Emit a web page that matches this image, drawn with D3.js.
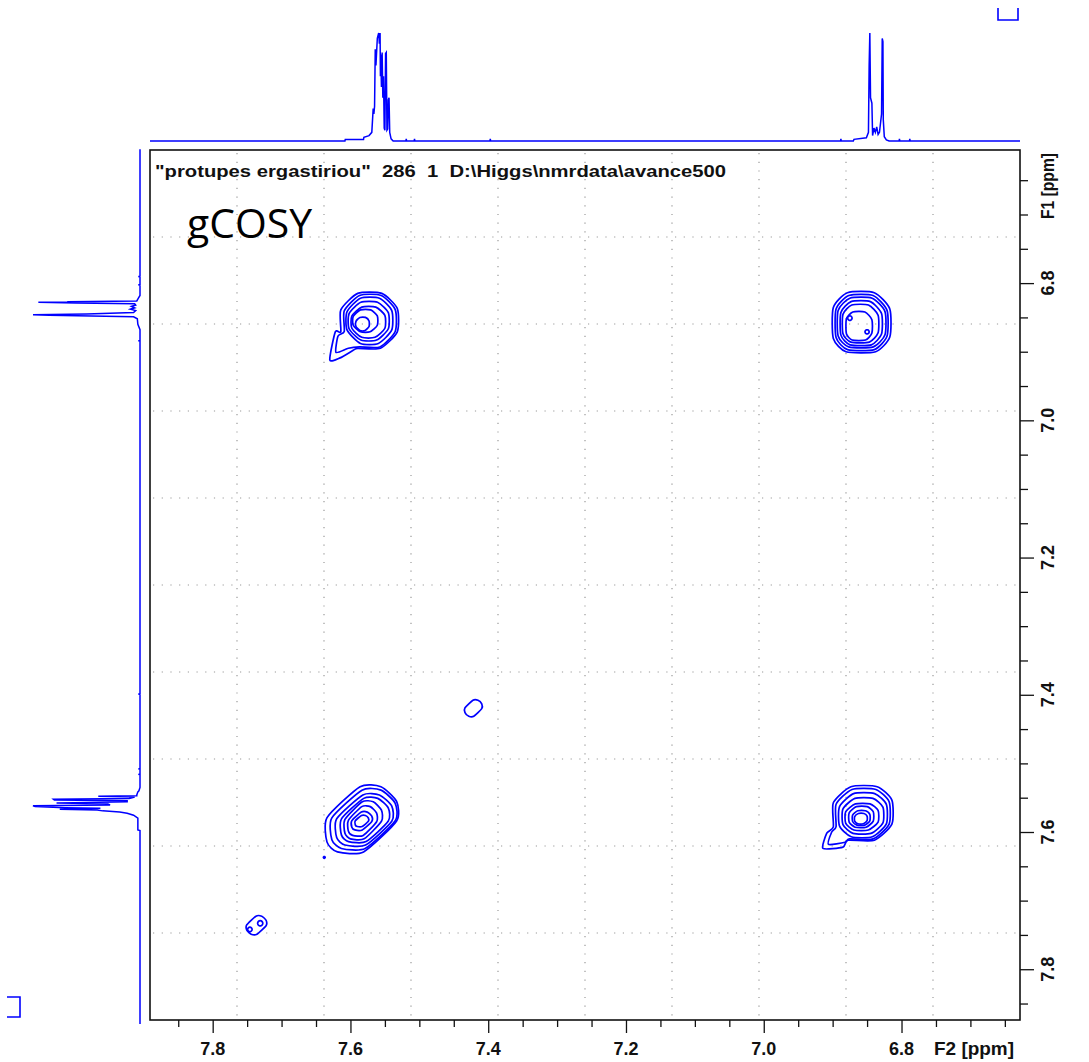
<!DOCTYPE html>
<html><head><meta charset="utf-8">
<script src="https://cdn.jsdelivr.net/npm/d3@7"></script>
<style>
html,body{margin:0;padding:0;background:#fff;}
svg{display:block;}
</style></head><body>
<svg id="c" width="1089" height="1062"></svg>
<script>
// ---------- data ----------
const f2Domain = [7.891, 6.628];          // F2 ppm at left / right frame edges
const f1Domain = [6.606, 7.874];          // F1 ppm at top / bottom frame edges
const majorTicks = [6.8, 7.0, 7.2, 7.4, 7.6, 7.8];
const tickLabels = ["6.8", "7.0", "7.2", "7.4", "7.6", "7.8"];
const minorTicks = [6.65, 6.70, 6.75, 6.85, 6.90, 6.95, 7.05, 7.10, 7.15, 7.25, 7.30, 7.35, 7.45, 7.50, 7.55, 7.65, 7.70, 7.75, 7.85];
const titleText = '"protupes ergastiriou"  286  1  D:\\Higgs\\nmrdata\\avance500';
const expLabel = "gCOSY";
const f2Label = "F2 [ppm]";
const f1Label = "F1 [ppm]";

// top 1D projection (F2): ppm, relative intensity
const topPpm = [7.891, 7.608, 7.6075, 7.581, 7.5805, 7.573, 7.569, 7.567, 7.566, 7.565, 7.564, 7.563, 7.561, 7.559, 7.558, 7.557, 7.5565, 7.556, 7.555, 7.554, 7.553, 7.552, 7.551, 7.550, 7.549, 7.548, 7.547, 7.546, 7.545, 7.544, 7.543, 7.541, 7.538, 7.5195, 7.519, 7.5185, 7.5075, 7.507, 7.5065, 7.3975, 7.397, 7.3965, 6.8885, 6.888, 6.8875, 6.870, 6.869, 6.851, 6.848, 6.847, 6.846, 6.845, 6.843, 6.842, 6.840, 6.838, 6.836, 6.834, 6.832, 6.829, 6.828, 6.827, 6.8265, 6.825, 6.822, 6.818, 6.8035, 6.803, 6.8025, 6.7885, 6.788, 6.7875, 6.628];
const topInt = [0, 0, 1.5, 1.5, 3.5, 5, 8, 30, 25, 32, 85, 70, 95, 100, 90, 100, 60, 80, 50, 82, 40, 60, 12, 10, 81, 82, 10, 11, 38, 40, 8, 2, 0, 0, 2, 0, 0, 2, 0, 0, 2, 0, 0, 2, 0, 0, 1.5, 3, 8, 70, 100, 40, 35, 5, 12, 8, 13, 6, 8, 25, 95, 92, 20, 4, 1, 0, 0, 2, 0, 0, 2, 0, 0];

// left 1D projection (F1): ppm, relative intensity
const leftPpm = [6.605, 6.790, 6.7905, 6.791, 6.802, 6.8025, 6.803, 6.818, 6.822, 6.826, 6.827, 6.8275, 6.828, 6.829, 6.830, 6.832, 6.834, 6.836, 6.838, 6.840, 6.843, 6.845, 6.846, 6.847, 6.849, 6.852, 6.860, 6.868, 6.8835, 6.884, 6.8845, 7.3985, 7.399, 7.3995, 7.5075, 7.508, 7.5085, 7.5155, 7.516, 7.5165, 7.535, 7.540, 7.5415, 7.546, 7.547, 7.5478, 7.549, 7.551, 7.5522, 7.5535, 7.5545, 7.5561, 7.5576, 7.559, 7.5605, 7.5617, 7.5630, 7.5645, 7.5653, 7.5668, 7.5680, 7.5692, 7.5707, 7.5726, 7.5755, 7.5799, 7.597, 7.598, 7.880];
const leftInt = [0, 0, 1.5, 0, 0, 1.5, 0, 0, 1.5, 3, 68, 60, 95, 60, 5, 4, 8, 5, 9, 4, 6, 50, 100, 85, 6, 2.5, 2, 0, 0, 1.5, 0, 0, 1.5, 0, 0, 1.5, 0, 0, 1.5, 0, 0, 1, 2, 3, 3, 39, 5, 10, 81, 80, 12, 12, 78, 30, 28, 100, 98, 70, 37, 75, 40, 35, 19, 12, 6, 2, 2, 0, 0];

// contour rings: [F2 left ppm, F2 right ppm, F1 top ppm, F1 bottom ppm], outer -> inner
const ringsA = [[7.614, 7.532, 6.815, 6.895], [7.609, 7.535, 6.818, 6.893], [7.605, 7.540, 6.822, 6.888], [7.602, 7.545, 6.828, 6.883], [7.598, 7.550, 6.835, 6.879], [7.596, 7.561, 6.839, 6.871], [7.592, 7.573, 6.850, 6.869]];
// lower-left lobes of the outer rings: [F2 ppm, F1 ppm] points
const tailsA = [[[7.596, 6.898], [7.615, 6.909], [7.630, 6.912], [7.622, 6.871]], [[7.603, 6.895], [7.621, 6.901], [7.618, 6.877]]];
const ringsB = [[6.899, 6.817, 6.814, 6.900], [6.895, 6.821, 6.818, 6.897], [6.892, 6.824, 6.822, 6.893], [6.888, 6.829, 6.827, 6.890], [6.885, 6.834, 6.832, 6.886], [6.880, 6.843, 6.842, 6.883]];
const tailsB = [];
const ringsC = [[7.634, 7.533, 7.534, 7.629], [7.627, 7.535, 7.539, 7.624], [7.620, 7.540, 7.546, 7.619], [7.613, 7.545, 7.551, 7.614], [7.608, 7.555, 7.556, 7.610], [7.603, 7.562, 7.563, 7.605], [7.598, 7.569, 7.571, 7.597], [7.593, 7.574, 7.576, 7.592]];
const tailsC = [];
const ringsD = [[6.899, 6.814, 7.534, 7.612], [6.895, 6.818, 7.538, 7.610], [6.890, 6.822, 7.544, 7.607], [6.885, 6.827, 7.551, 7.602], [6.881, 6.834, 7.559, 7.597], [6.876, 6.841, 7.563, 7.593], [6.871, 6.846, 7.569, 7.590], [6.868, 6.850, 7.573, 7.588]];
const tailsD = [[[6.885, 7.622], [6.914, 7.624], [6.9085, 7.6017]], [[6.882, 7.615], [6.906, 7.618], [6.9015, 7.6003]]];
const ringsE = [[7.7505, 7.7225, 7.7227, 7.7490]];
const ringsF = [[7.4337, 7.4094, 7.4079, 7.4312]];
// small isolated contour islands: F2 ppm, F1 ppm, half-size ppm
const islands = [[6.875, 6.851, 0.0030], [6.850, 6.871, 0.0028], [7.746, 7.742, 0.0030], [7.731, 7.733, 0.0035], [7.638, 7.637, 0.0012]];

// ---------- layout ----------
const svg = d3.select("#c");
const frame = {l: 150, t: 150, r: 1020, b: 1020};
const x = d3.scaleLinear().domain(f2Domain).range([frame.l, frame.r]);
const y = d3.scaleLinear().domain(f1Domain).range([frame.t, frame.b]);
const topY = d3.scaleLinear().domain([0, 100]).range([141, 33]);
const leftX = d3.scaleLinear().domain([0, 100]).range([140, 33]);
const blue = "#0000ff";

// grid (dotted)
const gx = d3.range(1, 10).map(k => frame.l + k * (frame.r - frame.l) / 10);
const gy = d3.range(1, 10).map(k => frame.t + k * (frame.b - frame.t) / 10);
const grid = svg.append("g").attr("stroke", "#9a9a9a").attr("stroke-width", 1.2).attr("stroke-dasharray", "1.2,7.5");
grid.selectAll("line.v").data(gx).join("line").attr("class", "v")
  .attr("x1", d => d).attr("x2", d => d).attr("y1", frame.t + 3).attr("y2", frame.b);
grid.selectAll("line.h").data(gy).join("line").attr("class", "h")
  .attr("y1", d => d).attr("y2", d => d).attr("x1", frame.l + 3).attr("x2", frame.r);

// frame
svg.append("rect").attr("x", frame.l).attr("y", frame.t)
  .attr("width", frame.r - frame.l).attr("height", frame.b - frame.t)
  .attr("fill", "none").attr("stroke", "#111").attr("stroke-width", 1.6);

// axes
const axFont = "'Liberation Sans', Arial, sans-serif";
const gb = svg.append("g").attr("transform", `translate(0,${frame.b})`);
gb.append("g").call(d3.axisBottom(x).tickValues(minorTicks).tickSize(7).tickFormat(""));
gb.append("g").call(d3.axisBottom(x).tickValues(majorTicks).tickSize(13).tickFormat(""));
gb.selectAll(".domain").remove();
gb.selectAll(".tick line").attr("stroke", "#111").attr("stroke-width", 1.3);
svg.append("g").selectAll("text").data(majorTicks).join("text")
  .attr("x", d => x(d)).attr("y", 1055).attr("text-anchor", "middle")
  .attr("font-family", axFont).attr("font-weight", "bold").attr("font-size", 18).attr("fill", "#111")
  .attr("textLength", 25).attr("lengthAdjust", "spacingAndGlyphs")
  .text((d, i) => tickLabels[i]);

const gr = svg.append("g").attr("transform", `translate(${frame.r},0)`);
gr.append("g").call(d3.axisRight(y).tickValues(minorTicks).tickSize(8).tickFormat(""));
gr.append("g").call(d3.axisRight(y).tickValues(majorTicks).tickSize(14).tickFormat(""));
gr.selectAll(".domain").remove();
gr.selectAll(".tick line").attr("stroke", "#111").attr("stroke-width", 1.3);
svg.append("g").selectAll("text").data(majorTicks).join("text")
  .attr("transform", (d) => `translate(1054,${y(d)}) rotate(-90)`)
  .attr("text-anchor", "middle")
  .attr("font-family", axFont).attr("font-weight", "bold").attr("font-size", 18).attr("fill", "#111")
  .attr("textLength", 25).attr("lengthAdjust", "spacingAndGlyphs")
  .text((d, i) => tickLabels[i]);

svg.append("text").attr("x", 974).attr("y", 1055).attr("text-anchor", "middle")
  .attr("font-family", axFont).attr("font-weight", "bold").attr("font-size", 18).attr("fill", "#111")
  .attr("textLength", 80).attr("lengthAdjust", "spacingAndGlyphs")
  .text(f2Label);
svg.append("text").attr("transform", "translate(1054,186) rotate(-90)").attr("text-anchor", "middle")
  .attr("font-family", axFont).attr("font-weight", "bold").attr("font-size", 18).attr("fill", "#111")
  .attr("textLength", 66).attr("lengthAdjust", "spacingAndGlyphs")
  .text(f1Label);

// title
svg.append("text").attr("x", 155).attr("y", 177).style("white-space", "pre")
  .attr("font-family", axFont).attr("font-weight", "bold").attr("font-size", 17).attr("fill", "#111")
  .attr("textLength", 571).attr("lengthAdjust", "spacingAndGlyphs")
  .text(titleText);
svg.append("text").attr("x", 187).attr("y", 238)
  .attr("font-family", "'Open Sans', 'Noto Sans', sans-serif").attr("font-size", 41).attr("fill", "#000")
  .attr("textLength", 125).attr("lengthAdjust", "spacingAndGlyphs")
  .text(expLabel);

// 1D projections
const topLine = d3.line().x(d => x(d[0])).y(d => topY(d[1]));
svg.append("path").attr("d", topLine(d3.zip(topPpm, topInt)))
  .attr("fill", "none").attr("stroke", blue).attr("stroke-width", 1.5);
const leftLine = d3.line().x(d => leftX(d[1])).y(d => y(d[0]));
svg.append("path").attr("d", leftLine(d3.zip(leftPpm, leftInt)))
  .attr("fill", "none").attr("stroke", blue).attr("stroke-width", 1.5);

// corner markers
svg.append("path").attr("d", "M998,8 V20 H1018 V8").attr("fill", "none").attr("stroke", blue).attr("stroke-width", 1.6);
svg.append("path").attr("d", "M7,997 H20 V1017 H7").attr("fill", "none").attr("stroke", blue).attr("stroke-width", 1.6);

// contours
const ringLine = d3.line().curve(d3.curveCardinalClosed.tension(0.35));
function ringPoints(r, cut, tail) {
  const L = x(r[0]), R = x(r[1]), T = y(r[2]), B = y(r[3]);
  const hw = (R - L) / 2, hh = (B - T) / 2;
  const pts = [
    [L, T + cut[0] * hh], [L + cut[0] * hw, T],
    [R - cut[1] * hw, T], [R, T + cut[1] * hh],
    [R, B - cut[2] * hh], [R - cut[2] * hw, B],
    [L + cut[3] * hw, B]];
  if (tail) tail.forEach(p => pts.push([x(p[0]), y(p[1])]));
  pts.push([L, B - cut[3] * hh]);
  return pts;
}
const peaks = [
  {rings: ringsA, tails: tailsA, cut: [0.6, 0.55, 0.6, 0.6]},
  {rings: ringsB, tails: tailsB, cut: [0.5, 0.55, 0.5, 0.45]},
  {rings: ringsC, tails: tailsC, cut: [0.95, 0.45, 0.95, 0.3]},
  {rings: ringsD, tails: tailsD, cut: [0.6, 0.5, 0.6, 0.5]},
  {rings: ringsE, tails: [], cut: [0.95, 0.45, 0.95, 0.45]},
  {rings: ringsF, tails: [], cut: [0.95, 0.45, 0.95, 0.45]}
];
const cg = svg.append("g").attr("fill", "none").attr("stroke", blue).attr("stroke-width", 1.7).attr("stroke-linejoin", "round");
peaks.forEach(p => {
  cg.append("g").selectAll("path").data(p.rings).join("path")
    .attr("d", (r, i) => ringLine(ringPoints(r, p.cut, p.tails[i])));
});
cg.append("g").selectAll("path").data(islands).join("path")
  .attr("d", d => ringLine(ringPoints([d[0] + d[2], d[0] - d[2], d[1] - d[2], d[1] + d[2]], [0.6, 0.6, 0.6, 0.6])));
</script>
</body></html>
